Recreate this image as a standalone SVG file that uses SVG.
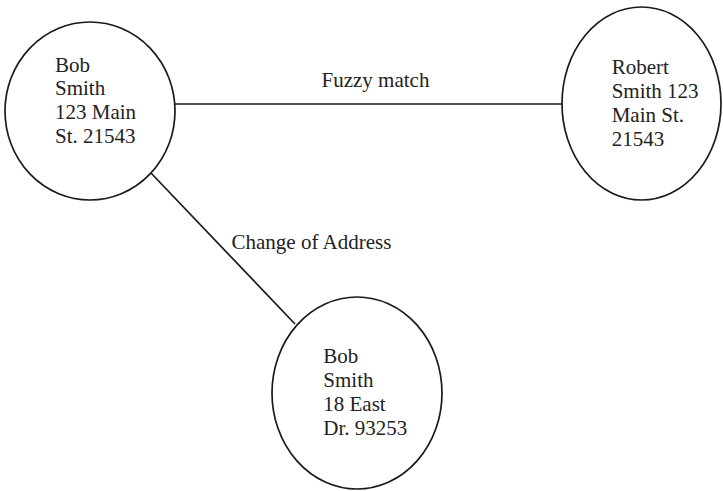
<svg xmlns="http://www.w3.org/2000/svg" width="723" height="491" viewBox="0 0 723 491">
  <style>
    .node { fill: #ffffff; stroke: #1a1a1a; stroke-width: 1.7; }
    .edge { stroke: #1a1a1a; stroke-width: 1.7; fill: none; }
    text { font-family: "Liberation Serif", "Times New Roman", serif; font-size: 21px; fill: #222222; }
  </style>
  <rect width="723" height="491" fill="#ffffff"/>

  <!-- connectors -->
  <g id="edges">
    <line class="edge" x1="175" y1="104" x2="562" y2="104"/>
    <line class="edge" x1="151" y1="173" x2="295" y2="324"/>
    <text x="321.5" y="87">Fuzzy match</text>
    <text x="231.5" y="248.5">Change of Address</text>
  </g>

  <!-- record: original address -->
  <g id="node-bob-main">
    <ellipse class="node" cx="90" cy="111" rx="85" ry="89"/>
    <text x="55" y="71.7">Bob</text>
    <text x="55" y="95.3">Smith</text>
    <text x="55" y="119">123 Main</text>
    <text x="55" y="142.7">St. 21543</text>
  </g>

  <!-- record: name variant -->
  <g id="node-robert">
    <ellipse class="node" cx="641.5" cy="103.5" rx="79.5" ry="96.5"/>
    <text x="611.7" y="74">Robert</text>
    <text x="611.7" y="97.7">Smith 123</text>
    <text x="611.7" y="121.7">Main St.</text>
    <text x="611.7" y="145.7">21543</text>
  </g>

  <!-- record: new address -->
  <g id="node-bob-east">
    <ellipse class="node" cx="357" cy="393" rx="85" ry="96"/>
    <text x="323.3" y="362.7">Bob</text>
    <text x="323.3" y="386.7">Smith</text>
    <text x="323.3" y="410.7">18 East</text>
    <text x="323.3" y="435">Dr. 93253</text>
  </g>
</svg>
